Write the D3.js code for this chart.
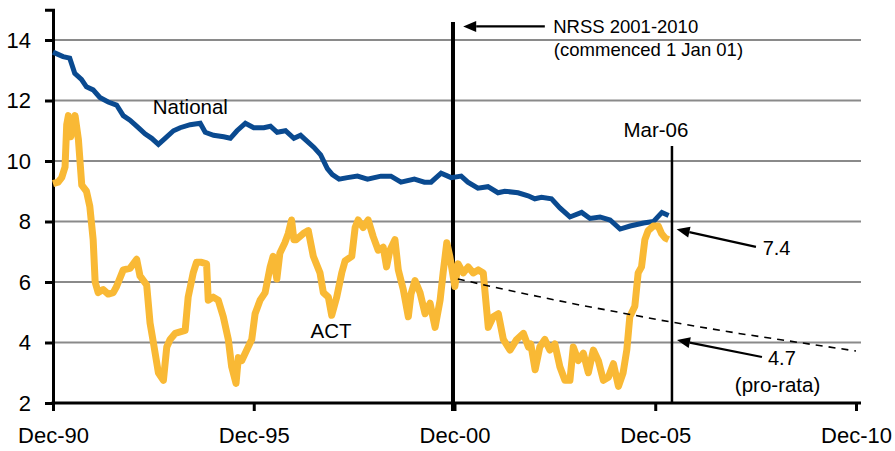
<!DOCTYPE html>
<html>
<head>
<meta charset="utf-8">
<script src="https://cdn.jsdelivr.net/npm/d3@7"></script>
<style>
  html, body { margin: 0; padding: 0; background: #fff; }
  svg { display: block; }
  text { font-family: "Liberation Sans", Arial, Helvetica, sans-serif; fill: #000; }
</style>
</head>
<body>
<div id="chart"></div>
<script>
// ---------- data (months since Dec-90) ----------
const xTickMonths = [0, 60, 120, 180, 240];
const xTickLabels = ["Dec-90", "Dec-95", "Dec-00", "Dec-05", "Dec-10"];
const yTickValues = [2, 4, 6, 8, 10, 12, 14];

const natMonth = [0,3,5,6.5,8.5,10,12,14,16.5,19,21,23,25.5,27.5,29.5,31.5,33.5,36,38,41,44,45.5,48,51,53,55,57.5,60,63,65,67,69.5,72,74,75.5,78,80,82,83.5,85.5,88,91,94,98,101,104,108,111,113,116,118,119,122,124,127,130,133,135,139,142,144,146,149,151.5,154.5,158,160.5,163.5,166.5,169.5,172.5,176.5,179.5,182,184];
const natValue = [13.6,13.45,13.4,12.9,12.7,12.45,12.35,12.1,11.95,11.85,11.5,11.35,11.1,10.9,10.75,10.55,10.75,11.0,11.1,11.2,11.25,10.95,10.85,10.8,10.75,11.0,11.25,11.1,11.1,11.15,10.95,11.0,10.75,10.85,10.7,10.45,10.2,9.75,9.55,9.4,9.45,9.5,9.4,9.5,9.5,9.3,9.4,9.3,9.3,9.6,9.5,9.45,9.5,9.3,9.1,9.15,8.95,9.0,8.95,8.85,8.75,8.8,8.75,8.45,8.15,8.3,8.1,8.15,8.05,7.75,7.85,7.95,8.0,8.3,8.2];

const actMonth = [0,1.5,2.6,3.6,4.1,4.6,5.3,6.6,7.6,8.6,10,11,12,12.6,13.5,15,16.5,18,19,21,23,25,26,28,29,30,31.5,33,34,35,36.5,39.5,40.4,41.9,42.9,44.4,45.9,46.4,47.9,49.4,50.9,52.4,53.4,54.7,55.4,56.4,57.9,59.4,60.4,61.9,63.4,64.9,65.8,66.9,67.8,69.3,70.3,71.3,72,72.7,74.8,76.3,77.8,79.8,80.8,82.3,83.3,84.8,86.3,87.3,89.3,90.3,91.2,92.7,94.2,95.7,97.2,98.7,99.7,100.7,102.2,103.2,104.7,106.2,107,108.2,109.7,111.2,112.7,114.2,115.7,116.6,117.7,118.6,120.1,121.1,122.6,124.1,125.6,127.1,128.6,130.1,131.6,133.1,134.6,136.6,138.6,140.6,142.1,142.8,144.1,145.5,147,148.5,150,151.5,153,154.5,155.5,157,158.5,160,161.5,163,164.5,166,167.5,169,170.4,171.5,172.4,173.9,174.9,175.9,176.9,177.9,179.4,180.9,181.9,183,184];
const actValue = [9.25,9.3,9.45,9.8,11.2,11.5,10.8,11.5,10.7,9.2,9.0,8.5,7.4,6.0,5.65,5.75,5.6,5.65,5.85,6.4,6.45,6.75,6.2,5.9,4.65,4.0,3.0,2.75,3.85,4.1,4.3,4.4,5.5,6.3,6.65,6.65,6.6,5.4,5.5,5.4,4.85,4.1,3.2,2.65,3.5,3.4,3.75,4.1,4.95,5.4,5.65,6.5,6.85,6.1,6.95,7.3,7.6,8.05,7.4,7.4,7.6,7.7,6.85,6.3,5.65,5.5,4.9,5.5,6.3,6.7,6.85,7.8,8.05,7.8,8.05,7.5,7.05,7.15,6.5,7.05,7.4,6.4,5.75,4.85,5.6,6.05,5.65,4.95,5.3,4.5,5.4,6.3,7.3,6.85,5.85,6.6,6.3,6.5,6.3,6.4,6.3,4.5,4.85,4.95,4.1,3.75,4.1,4.3,3.85,3.95,3.1,3.85,4.1,3.75,3.95,3.2,2.75,2.75,3.85,3.4,3.65,3.0,3.75,3.4,2.75,2.85,3.3,2.55,3.0,3.75,4.85,5.2,6.3,6.5,7.4,7.7,7.85,7.85,7.6,7.45,7.4];

const targetMonth = [121,133,145,157,169,181,193,205,217,229,240];
const targetValue = [6.1,5.8,5.52,5.25,5.0,4.75,4.52,4.3,4.1,3.9,3.72];

const nrssMonth = 120;
const marMonth = 185;
const marLabel = "Mar-06";

// ---------- layout ----------
const W = 895, H = 451;
const x = d3.scaleLinear().domain([0, 241.5]).range([53, 861]);
const y = d3.scaleLinear().domain([2, 15]).range([403, 9.75]);

const svg = d3.select("#chart").append("svg").attr("width", W).attr("height", H);

// gridlines
svg.append("g").selectAll("line").data(yTickValues.filter(v => v > 2)).join("line")
  .attr("x1", x(0)).attr("x2", x(241.5))
  .attr("y1", d => y(d)).attr("y2", d => y(d))
  .attr("stroke", "#8a8a8a").attr("stroke-width", 2);

// y axis
const yAxis = d3.axisLeft(y).tickValues(yTickValues).tickSize(8).tickPadding(14).tickFormat(d3.format("d"));
const gy = svg.append("g").attr("transform", `translate(${x(0)},0)`).call(yAxis);
gy.select(".domain").attr("stroke", "#000").attr("stroke-width", 3);
gy.selectAll(".tick line").attr("stroke", "#000").attr("stroke-width", 3);
gy.selectAll(".tick text").attr("font-size", 22).attr("font-family", '"Liberation Sans", Arial, sans-serif').attr("fill", "#000");

// x axis
const xAxis = d3.axisBottom(x).tickValues(xTickMonths).tickSize(8).tickPadding(16)
  .tickFormat((d, i) => xTickLabels[i]);
const gx = svg.append("g").attr("transform", `translate(0,${y(2)})`).call(xAxis);
gx.select(".domain").attr("stroke", "#000").attr("stroke-width", 3).attr("d", `M${x(0) - 1.5},0H${x(241.5)}`);
gx.selectAll(".tick line").attr("stroke", "#000").attr("stroke-width", 3);
gx.selectAll(".tick text").attr("font-size", 22).attr("font-family", '"Liberation Sans", Arial, sans-serif').attr("fill", "#000");

// vertical markers
svg.append("line").attr("x1", x(nrssMonth) - 1.5).attr("x2", x(nrssMonth) - 1.5)
  .attr("y1", 22).attr("y2", y(2) + 8).attr("stroke", "#000").attr("stroke-width", 4);
svg.append("line").attr("x1", x(marMonth)).attr("x2", x(marMonth))
  .attr("y1", y(10.5)).attr("y2", y(2)).attr("stroke", "#000").attr("stroke-width", 2.5);

// series
const line = d3.line().x(d => x(d[0])).y(d => y(d[1]));
svg.append("path").datum(d3.zip(natMonth, natValue)).attr("d", line)
  .attr("fill", "none").attr("stroke", "#0a4a90").attr("stroke-width", 5).attr("stroke-linejoin", "miter");
svg.append("path").datum(d3.zip(actMonth, actValue)).attr("d", line)
  .attr("fill", "none").attr("stroke", "#f9b935").attr("stroke-width", 7).attr("stroke-linejoin", "round");
svg.append("path").datum(d3.zip(targetMonth, targetValue)).attr("d", line)
  .attr("fill", "none").attr("stroke", "#000").attr("stroke-width", 1.6).attr("stroke-dasharray", "7,6");

// arrows
function arrow(m1, v1, m2, v2) {
  const x1 = x(m1), y1 = y(v1), x2 = x(m2), y2 = y(v2);
  const a = Math.atan2(y2 - y1, x2 - x1), L = 13, hw = 5.5;
  const bx = x2 - L * Math.cos(a), by = y2 - L * Math.sin(a);
  svg.append("line").attr("x1", x1).attr("y1", y1).attr("x2", bx).attr("y2", by)
    .attr("stroke", "#000").attr("stroke-width", 2.2);
  const p = [[x2, y2], [bx + hw * Math.sin(a), by - hw * Math.cos(a)], [bx - hw * Math.sin(a), by + hw * Math.cos(a)]];
  svg.append("path").attr("d", "M" + p.map(q => q.join(",")).join("L") + "Z").attr("fill", "#000");
}
arrow(147, 14.45, 122.6, 14.45);
arrow(210.1, 7.16, 186.4, 7.74);
arrow(211.9, 3.52, 186.5, 4.08);

// labels
function label(m, v, t, size, anchor) {
  svg.append("text").attr("x", x(m)).attr("y", y(v)).attr("font-size", size)
    .attr("text-anchor", anchor || "start").text(t);
}
label(29.8, 11.55, "National", 20.5);
label(77.0, 4.16, "ACT", 20.5);
label(180.2, 10.79, marLabel, 20.5, "middle");
label(149.5, 14.23, "NRSS 2001-2010", 18.5);
label(149.7, 13.46, "(commenced 1 Jan 01)", 18.5);
label(212.1, 6.89, "7.4", 20);
label(213.7, 3.26, "4.7", 20);
label(203.8, 2.36, "(pro-rata)", 20.5);
</script>
</body>
</html>
